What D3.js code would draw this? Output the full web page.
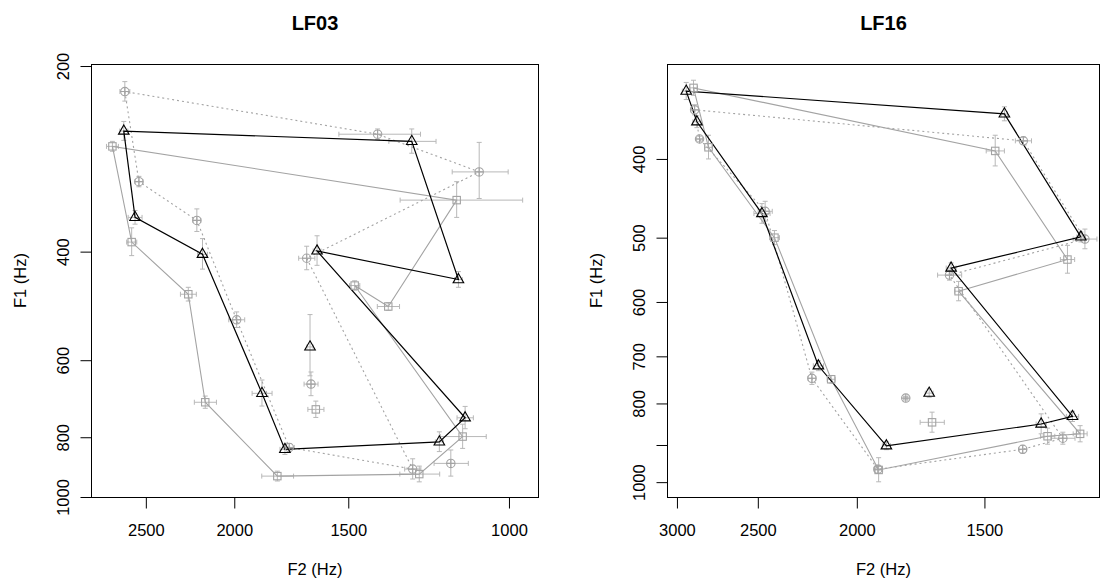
<!DOCTYPE html>
<html><head><meta charset="utf-8">
<script src="https://cdn.jsdelivr.net/npm/d3@7"></script>
<style>
html,body{margin:0;padding:0;background:#fff;}
svg text{font-family:"Liberation Sans",Arial,Helvetica,sans-serif;}
</style></head>
<body><svg id="c" width="1104" height="582"></svg>
<script>
// ---- data: each row = [F2, F1, sdF2, sdF1] (Hz); polygon order; "Extra" rows are unconnected vowels ----
const speakers = ["LF03", "LF16"];

const lf03Triangles = [[2643,255,27,9],[2569,352,45,9],[2167,404,27,23],[1865,679,47,33],[1760,837,22,16],
  [1192,814,12,30],[1117,744,23,31],[1623,399,16,22],[1136,444,11,13],[1278,265,76,12]];
const lf03TriangleExtra = [[1652,571,13,65]];
const lf03Squares = [[2720,270,41,5],[2591,386,33,20],[2246,469,45,12],[2152,702,60,16],[1794,925,72,17],
  [1254,918,63,27],[1124,798,65,36],[1476,454,19,8],[1356,491,38,7],[1141,330,175,22]];
const lf03SquareExtra = [[1628,721,33,22]];
const lf03Circles = [[2636,220,33,8],[2544,308,26,6],[2198,356,22,15],[1988,516,40,15],[1741,831,22,12],
  [1275,901,26,34],[1666,410,34,18],[1078,297,76,31],[1393,258,143,5]];
const lf03CircleExtra = [[1648,656,29,29],[1158,882,50,43]];

const lf16Triangles = [[2938,330,26,8],[2868,360,26,6],[2477,467,45,13],[2181,719,25,10],[1871,902,17,10],
  [1320,848,15,24],[1230,830,17,12],[1617,545,18,8],[1207,499,11,7],[1434,352,10,7]];
const lf16TriangleExtra = [[1699,777,15,9]];
const lf16Squares = [[2890,327,26,7],[2794,387,25,13],[2408,500,27,10],[2119,747,19,8],[1904,966,17,33],
  [1301,878,21,20],[1209,872,19,20],[1590,582,14,16],[1244,532,20,21],[1464,391,30,17]];
const lf16SquareExtra = [[1688,844,46,24]];
const lf16Circles = [[2883,348,26,5],[2851,378,19,3],[2459,464,39,13],[2213,745,20,13],[1907,964,17,11],
  [1376,911,12,10],[1257,883,34,15],[1623,556,44,8],[1196,502,32,14],[1374,380,25,4]];
const lf16CircleExtra = [[1791,788,8,4]];

const lf03XTicks = [2500, 2000, 1500, 1000];
const lf03YTicks = [200, 400, 600, 800, 1000];
const lf16XTicks = [3000, 2500, 2000, 1500];
const lf16YTicks = [400, 500, 600, 700, 800, 900, 1000];
const lf16YLabels = ["400", "500", "600", "700", "800", "", "1000"];

// ---- layout ----
const svg = d3.select("#c");
const GRAY = "#a3a3a3", ERR = "#b8b8b8";

const panels = [
  {title: speakers[0], xd:[2871,927], yd:[198.5,1000], x0:91, x1:539, y0:64, y1:497,
   xt:lf03XTicks, yt:lf03YTicks, yl:lf03YTicks.map(String),
   tri:lf03Triangles, triX:lf03TriangleExtra, sq:lf03Squares, sqX:lf03SquareExtra, ci:lf03Circles, ciX:lf03CircleExtra},
  {title: speakers[1], xd:[3068,1156], yd:[305.6,1043], x0:667, x1:1100, y0:64, y1:497,
   xt:lf16XTicks, yt:lf16YTicks, yl:lf16YLabels,
   tri:lf16Triangles, triX:lf16TriangleExtra, sq:lf16Squares, sqX:lf16SquareExtra, ci:lf16Circles, ciX:lf16CircleExtra}
];

panels.forEach(p => {
  const x = d3.scaleLog().domain(p.xd).range([p.x0, p.x1]);
  const y = d3.scaleLog().domain(p.yd).range([p.y0, p.y1]);
  const g = svg.append("g");

  // error bars
  const allPts = [].concat(p.sq, p.sqX, p.ci, p.ciX, p.tri, p.triX);
  const eb = g.append("g").attr("stroke", ERR).attr("stroke-width", 1).attr("fill", "none");
  const cap = 2.5;
  allPts.forEach(d => {
    const cx = x(d[0]), cy = y(d[1]);
    const xa = x(d[0] + d[2]), xb = x(d[0] - d[2]);
    const ya = y(d[1] - d[3]), yb = y(d[1] + d[3]);
    eb.append("path").attr("d",
      `M${xa},${cy}H${xb}M${xa},${cy-cap}V${cy+cap}M${xb},${cy-cap}V${cy+cap}` +
      `M${cx},${ya}V${yb}M${cx-cap},${ya}H${cx+cap}M${cx-cap},${yb}H${cx+cap}`);
  });

  const line = d3.line().x(d => x(d[0])).y(d => y(d[1])).curve(d3.curveLinearClosed);
  g.append("path").attr("d", line(p.sq)).attr("fill","none").attr("stroke",GRAY).attr("stroke-width",1.1);
  g.append("path").attr("d", line(p.ci)).attr("fill","none").attr("stroke",GRAY).attr("stroke-width",1.1)
    .attr("stroke-dasharray","2,3");
  g.append("path").attr("d", line(p.tri)).attr("fill","none").attr("stroke","#000").attr("stroke-width",1.2);

  // symbols
  const sq = g.append("g").attr("fill","none").attr("stroke",GRAY).attr("stroke-width",1.1);
  p.sq.concat(p.sqX).forEach(d => {
    const cx = x(d[0]), cy = y(d[1]), h = 3.7;
    sq.append("rect").attr("x", cx-h).attr("y", cy-h).attr("width", 2*h).attr("height", 2*h);
  });
  const ci = g.append("g").attr("fill","none").attr("stroke",GRAY).attr("stroke-width",1.1);
  p.ci.concat(p.ciX).forEach(d => {
    const cx = x(d[0]), cy = y(d[1]), r = 4.2;
    ci.append("circle").attr("cx", cx).attr("cy", cy).attr("r", r);
    ci.append("path").attr("d", `M${cx-r},${cy}H${cx+r}M${cx},${cy-r}V${cy+r}`);
  });
  const tr = g.append("g").attr("fill","none").attr("stroke","#000").attr("stroke-width",1.1);
  p.tri.concat(p.triX).forEach(d => {
    const cx = x(d[0]), cy = y(d[1]);
    tr.append("path").attr("d", `M${cx},${cy-6.1}L${cx+5.3},${cy+3.1}L${cx-5.3},${cy+3.1}Z`);
  });

  // box
  svg.append("rect").attr("x", p.x0+0.5).attr("y", p.y0+0.5).attr("width", p.x1-p.x0-1).attr("height", p.y1-p.y0)
    .attr("fill","none").attr("stroke","#000").attr("stroke-width",1);

  // axes
  const xa = svg.append("g").attr("transform", `translate(0,${p.y1+0.5})`)
    .call(d3.axisBottom(x).tickValues(p.xt).tickFormat(d3.format("d")).tickSize(11).tickPadding(16));
  const ya = svg.append("g").attr("transform", `translate(${p.x0+0.5},0)`)
    .call(d3.axisLeft(y).tickValues(p.yt).tickFormat((d,i) => p.yl[i]).tickSize(11));
  [xa, ya].forEach(a => {
    a.select(".domain").remove();
    a.selectAll("line").attr("stroke","#000");
    a.selectAll("text").attr("fill","#000").style("font-size","16.5px").attr("font-family",null);
  });
  ya.selectAll("text").attr("x", null).attr("dy", null).attr("text-anchor","middle")
    .attr("transform", "translate(-23,0) rotate(-90)");

  // titles & axis labels
  const cxm = (p.x0 + p.x1) / 2;
  svg.append("text").attr("x", cxm).attr("y", 30).attr("text-anchor","middle")
    .style("font-size","20px").style("font-weight","bold").text(p.title);
  svg.append("text").attr("x", cxm).attr("y", 575).attr("text-anchor","middle")
    .style("font-size","16.5px").text("F2 (Hz)");
  svg.append("text").attr("transform", `translate(${p.x0-65},${(p.y0+p.y1)/2}) rotate(-90)`)
    .attr("text-anchor","middle").style("font-size","16.5px").text("F1 (Hz)");
});
</script></body></html>
